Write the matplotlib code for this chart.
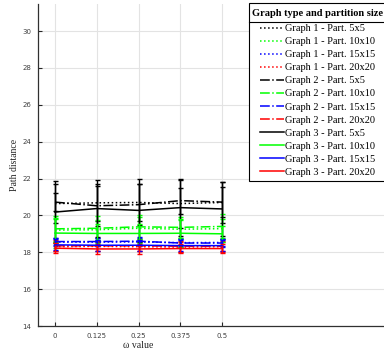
import matplotlib
matplotlib.use("Agg")
import matplotlib.pyplot as plt
from matplotlib.lines import Line2D
from matplotlib.patches import Rectangle

omega = [0, 0.125, 0.25, 0.375, 0.5]

series_labels = [
    "Graph 1 - Part. 5x5", "Graph 1 - Part. 10x10", "Graph 1 - Part. 15x15", "Graph 1 - Part. 20x20",
    "Graph 2 - Part. 5x5", "Graph 2 - Part. 10x10", "Graph 2 - Part. 15x15", "Graph 2 - Part. 20x20",
    "Graph 3 - Part. 5x5", "Graph 3 - Part. 10x10", "Graph 3 - Part. 15x15", "Graph 3 - Part. 20x20",
]
legend_title = "Graph type and partition size"

# mean path distance per omega value
g1_5 = [20.64, 20.68, 20.70, 20.64, 20.70]
g1_10 = [19.20, 19.22, 19.30, 19.25, 19.28]
g1_15 = [18.55, 18.55, 18.56, 18.52, 18.53]
g1_20 = [18.30, 18.32, 18.30, 18.28, 18.30]
g2_5 = [20.72, 20.52, 20.58, 20.80, 20.72]
g2_10 = [19.27, 19.30, 19.38, 19.35, 19.40]
g2_15 = [18.58, 18.58, 18.60, 18.50, 18.50]
g2_20 = [18.35, 18.35, 18.35, 18.33, 18.33]
g3_5 = [20.18, 20.37, 20.27, 20.42, 20.35]
g3_10 = [19.04, 19.02, 19.02, 19.03, 19.00]
g3_15 = [18.40, 18.38, 18.38, 18.36, 18.36]
g3_20 = [18.22, 18.18, 18.18, 18.20, 18.20]

# standard deviations
e1_5 = [1.05, 1.00, 1.00, 1.30, 1.10]
e1_10 = [0.60, 0.55, 0.60, 0.50, 0.55]
e1_15 = [0.20, 0.20, 0.22, 0.18, 0.20]
e1_20 = [0.25, 0.25, 0.25, 0.25, 0.25]
e2_5 = [0.50, 1.10, 1.10, 0.70, 0.80]
e2_10 = [0.70, 0.65, 0.65, 0.55, 0.65]
e2_15 = [0.20, 0.22, 0.22, 0.20, 0.20]
e2_20 = [0.30, 0.28, 0.30, 0.30, 0.30]
e3_5 = [1.70, 1.55, 1.70, 1.55, 1.45]
e3_10 = [0.80, 0.50, 0.50, 0.75, 0.45]
e3_15 = [0.30, 0.30, 0.30, 0.30, 0.30]
e3_20 = [0.28, 0.28, 0.28, 0.25, 0.25]

means = [g1_5, g1_10, g1_15, g1_20, g2_5, g2_10, g2_15, g2_20, g3_5, g3_10, g3_15, g3_20]
errs = [e1_5, e1_10, e1_15, e1_20, e2_5, e2_10, e2_15, e2_20, e3_5, e3_10, e3_15, e3_20]
colors = ["black", "#00ff00", "blue", "red"] * 3
styles = [":"] * 4 + ["-."] * 4 + ["-"] * 4

x_ticks = [0, 0.125, 0.25, 0.375, 0.5]
x_tick_labels = ["0", "0.125", "0.25", "0.375", "0.5"]
y_ticks = [14, 16, 18, 20, 22, 24, 26, 28, 30]

W, H = 384, 356
fig = plt.figure(figsize=(W / 100, H / 100), dpi=100)

px_per_unit = 334.0
x0, x1 = -0.05, 1.05
left_px = 55 - 0.05 * px_per_unit
width_px = (x1 - x0) * px_per_unit
top_px, bot_px = 4, 326
ax = fig.add_axes([left_px / W, 1 - bot_px / H, width_px / W, (bot_px - top_px) / H])
ax.set_xlim(x0, x1)
yhi = 30 + (31 - top_px) / ((bot_px - 31) / 16.0)
ax.set_ylim(14, yhi)

handles = []
for m, e, c, ls, lab in zip(means, errs, colors, styles, series_labels):
    ax.errorbar(omega, m, yerr=e, color=c, linestyle=ls, linewidth=1.1,
                elinewidth=1.0, capsize=1.8, capthick=1.0, zorder=3)
    handles.append(Line2D([], [], color=c, linestyle=ls, linewidth=1.1, label=lab))

ax.set_xticks(x_ticks)
ax.set_xticklabels(x_tick_labels)
ax.set_yticks(y_ticks)
ax.tick_params(direction="in", length=3, width=0.8, labelsize=5, colors="#262626",
               labelcolor="#404040", pad=5)
ax.grid(True, color="#e3e3e3", linewidth=0.8, zorder=0)
ax.set_axisbelow(True)
for s in ["top", "right"]:
    ax.spines[s].set_visible(False)
for s in ["left", "bottom"]:
    ax.spines[s].set_color("#303030")
    ax.spines[s].set_linewidth(0.9)

ax.set_ylabel("Path distance", family="Liberation Serif", fontsize=7, color="#262626")
ax.yaxis.set_label_coords((19 - left_px) / width_px, 0.5)
ax.set_xlabel("ω value", family="Liberation Serif", fontsize=7, color="#262626")
ax.xaxis.set_label_coords((138 - left_px) / width_px, -(341 - bot_px) / (bot_px - top_px))

# legend box with a title row and separator
box_left, box_top, box_bottom = 249, 3, 181
fig.add_artist(Rectangle((box_left / W, 1 - box_bottom / H), (W + 10 - box_left) / W,
                         (box_bottom - box_top) / H, transform=fig.transFigure,
                         facecolor="white", edgecolor="black", linewidth=0.8, zorder=4))
fig.add_artist(Line2D([box_left / W, 1.0], [1 - 22 / H, 1 - 22 / H],
                      transform=fig.transFigure, color="black", linewidth=0.8, zorder=6))
fig.text(252 / W, 1 - 14 / H, legend_title, family="Liberation Serif", fontsize=7.5,
         fontweight="bold", ha="left", va="center", zorder=6)

leg = fig.legend(handles=handles, loc="upper left",
                 bbox_to_anchor=(260 / W, 1 - 24 / H),
                 prop={"family": "Liberation Serif", "size": 7.5},
                 frameon=False, borderpad=0, labelspacing=0.36,
                 handlelength=2.3, handletextpad=0.1, borderaxespad=0)
leg.set_zorder(6)

fig.savefig("out.png", dpi=100)
